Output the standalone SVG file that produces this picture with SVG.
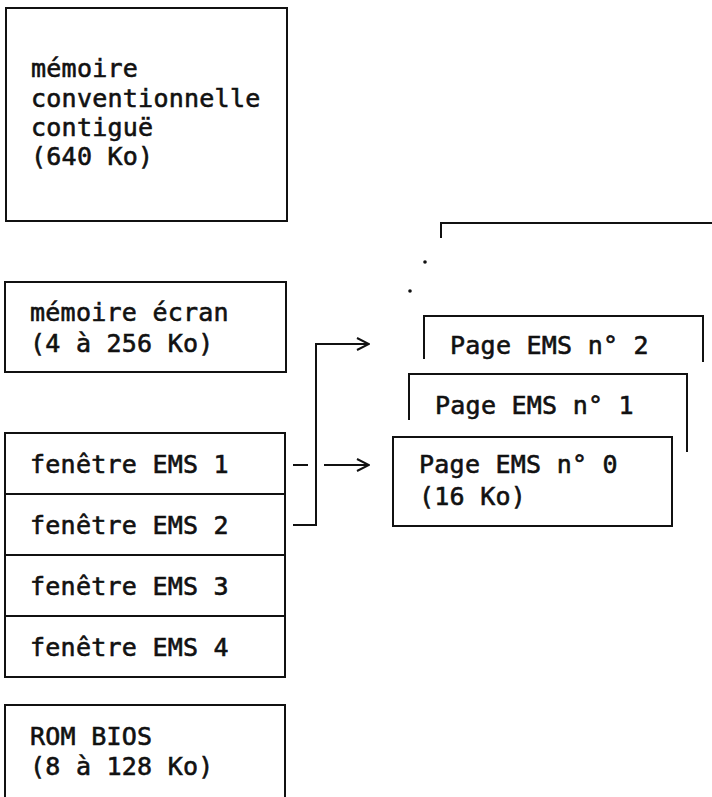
<svg xmlns="http://www.w3.org/2000/svg" width="712" height="797" viewBox="0 0 712 797">
<style>
.box{fill:none;stroke:#111;stroke-width:2}
.ln{fill:none;stroke:#111;stroke-width:2}
text{font-family:"DejaVu Sans Mono","Liberation Mono",monospace;font-size:25px;letter-spacing:0.25px;fill:#111;stroke:#111;stroke-width:0.6}
</style>
<defs>
<marker id="chev" viewBox="0 0 14 14" refX="13" refY="7" markerWidth="14" markerHeight="14" markerUnits="userSpaceOnUse" orient="auto">
<path d="M1,1 L13,7 L1,13" fill="none" stroke="#111" stroke-width="2"/>
</marker>
</defs>
<rect width="712" height="797" fill="#fff"/>
<g id="conventionnelle">
<rect class="box" x="6" y="8" width="281" height="213"/>
<text x="31" y="77">mémoire</text>
<text x="31" y="107">conventionnelle</text>
<text x="31" y="136">contiguë</text>
<text x="31" y="165">(640 Ko)</text>
</g>
<g id="ecran">
<rect class="box" x="5" y="282" width="281" height="90"/>
<text x="30" y="321">mémoire écran</text>
<text x="30" y="352">(4 à 256 Ko)</text>
</g>
<g id="ems1">
<rect class="box" x="5" y="433" width="280" height="61"/>
<text x="30" y="473">fenêtre EMS 1</text>
</g>
<g id="ems2">
<rect class="box" x="5" y="494" width="280" height="61"/>
<text x="30" y="534">fenêtre EMS 2</text>
</g>
<g id="ems3">
<rect class="box" x="5" y="555" width="280" height="61"/>
<text x="30" y="595">fenêtre EMS 3</text>
</g>
<g id="ems4">
<rect class="box" x="5" y="616" width="280" height="61"/>
<text x="30" y="656">fenêtre EMS 4</text>
</g>
<g id="rombios">
<rect class="box" x="5" y="705" width="280" height="100"/>
<text x="30" y="745">ROM BIOS</text>
<text x="30" y="775">(8 à 128 Ko)</text>
</g>
<g id="page_more">
<polyline class="ln" points="441,238 441,223 713,223"/>
<circle cx="425" cy="262" r="1.8" fill="#111"/>
<circle cx="410" cy="291" r="1.8" fill="#111"/>
</g>
<g id="page2">
<polyline class="ln" points="424,359 424,316 703,316 703,362"/>
<text x="450" y="354">Page EMS n° 2</text>
</g>
<g id="page1">
<polyline class="ln" points="409,420 409,374 687,374 687,452"/>
<text x="435" y="414">Page EMS n° 1</text>
</g>
<g id="page0">
<rect class="box" x="393" y="437" width="279" height="89"/>
<text x="419" y="473">Page EMS n° 0</text>
<text x="419" y="505">(16 Ko)</text>
</g>
<g id="connectors">
<polyline class="ln" points="293,525 316,525 316,344 369,344" marker-end="url(#chev)"/>
<line class="ln" x1="293" y1="465" x2="308" y2="465"/>
<line class="ln" x1="324" y1="465" x2="369" y2="465" marker-end="url(#chev)"/>
</g>
</svg>
